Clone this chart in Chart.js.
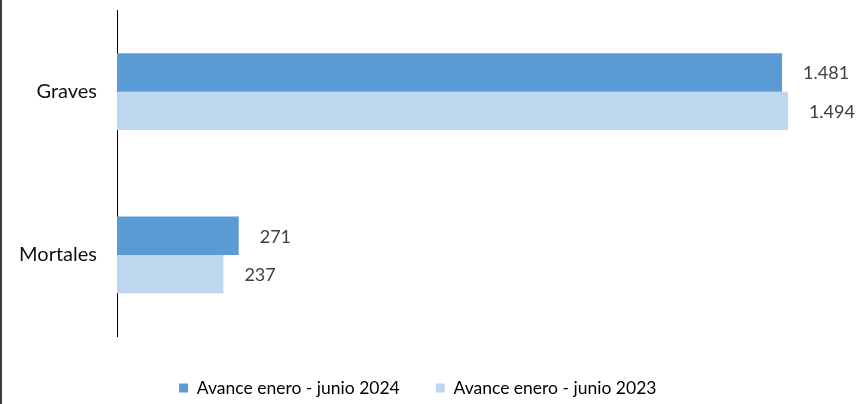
<!DOCTYPE html>
<html>
<head>
<meta charset="utf-8">
<script src="https://cdn.jsdelivr.net/npm/chart.js@4.4.0/dist/chart.umd.min.js"></script>
<style>
  html, body { margin: 0; padding: 0; background: #fff; }
  #wrap { width: 858px; height: 404px; position: relative; }
</style>
</head>
<body>
<div id="wrap"><canvas id="c" width="858" height="404"></canvas></div>
<script>
const categories = ['Graves', 'Mortales'];
const series2024 = [1481, 271];
const series2023 = [1494, 237];
const seriesNames = ['Avance enero - junio 2024', 'Avance enero - junio 2023'];
const xMax = 1600;

function fmt(v) {
  return String(v).replace(/\B(?=(\d{3})+(?!\d))/g, '.');
}

const FONT = 'Lato, "Open Sans", sans-serif';

const valueLabels = {
  id: 'valueLabels',
  afterDatasetsDraw(chart) {
    const ctx = chart.ctx;
    ctx.save();
    ctx.font = '18px ' + FONT;
    ctx.fillStyle = '#404040';
    ctx.textAlign = 'left';
    ctx.textBaseline = 'middle';
    chart.data.datasets.forEach((ds, di) => {
      const meta = chart.getDatasetMeta(di);
      meta.data.forEach((bar, i) => {
        ctx.fillText(fmt(ds.data[i]), bar.x + 21, bar.y + 1);
      });
    });
    ctx.restore();
  }
};

const leftBorder = {
  id: 'leftBorder',
  afterDraw(chart) {
    const ctx = chart.ctx;
    ctx.save();
    ctx.fillStyle = '#3a3a3a';
    ctx.fillRect(0, 0, 2, chart.height);
    ctx.restore();
  }
};

new Chart(document.getElementById('c'), {
  type: 'bar',
  data: {
    labels: categories,
    datasets: [
      { label: seriesNames[0], data: series2024, backgroundColor: '#5B9BD5', borderWidth: 0,
        categoryPercentage: 0.47, barPercentage: 1.0 },
      { label: seriesNames[1], data: series2023, backgroundColor: '#BDD7EE', borderWidth: 0,
        categoryPercentage: 0.47, barPercentage: 1.0 }
    ]
  },
  options: {
    indexAxis: 'y',
    responsive: false,
    animation: false,
    layout: { padding: { top: 10, right: 22.5, bottom: 0.75, left: 0 } },
    scales: {
      x: {
        min: 0, max: xMax,
        display: true,
        grid: { display: false },
        border: { display: false },
        ticks: { display: false },
        afterFit(scale) { scale.height = 6.75; scale.paddingLeft = 0; scale.paddingRight = 0; }
      },
      y: {
        z: 1,
        grid: { display: false, drawTicks: false },
        border: { display: true, color: '#000', width: 1 },
        ticks: { color: '#111', font: { family: FONT, size: 20 }, padding: 20 },
        afterFit(scale) { scale.width = 117; scale.paddingTop = 0; scale.paddingBottom = 0; }
      }
    },
    plugins: {
      legend: {
        position: 'bottom',
        align: 'center',
        maxHeight: 60,
        labels: {
          boxWidth: 9, boxHeight: 9, padding: 36,
          color: '#000',
          font: { family: FONT, size: 17.5 }
        }
      },
      tooltip: { enabled: false }
    }
  },
  plugins: [valueLabels, leftBorder]
});
</script>
</body>
</html>
